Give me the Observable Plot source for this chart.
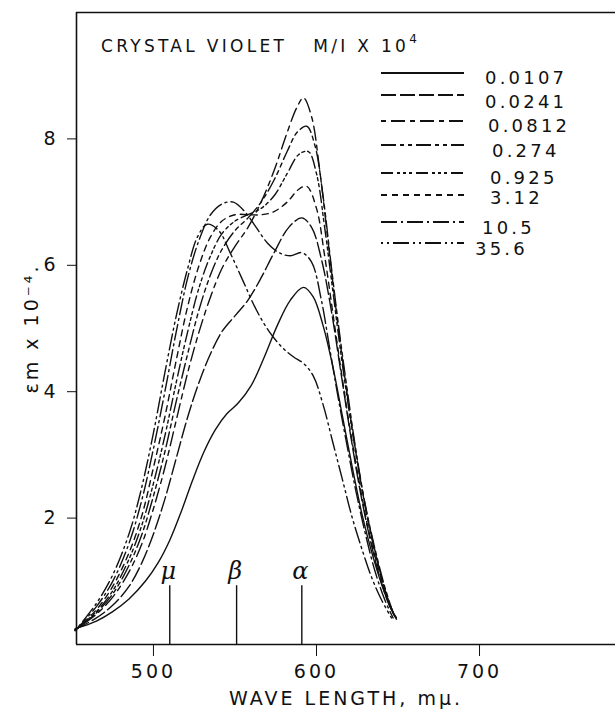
<!DOCTYPE html>
<html>
<head>
<meta charset="utf-8">
<script src="https://cdn.jsdelivr.net/npm/d3@7"></script>
<script src="https://cdn.jsdelivr.net/npm/@observablehq/plot@0.6"></script>
<style>
  html, body { margin: 0; padding: 0; background: #fff; }
  #wrap { position: relative; width: 615px; height: 710px; font-family: "DejaVu Sans", sans-serif; }
  #wrap svg text { letter-spacing: 3px; }
  #legend { position: absolute; left: 0; top: 0; width: 615px; height: 300px; pointer-events: none; }
  .ttl { position: absolute; left: 101px; top: 34px; font-size: 17px; letter-spacing: 3.3px; white-space: nowrap; color: #111; }
  .ttl sup { font-size: 12px; position: relative; top: -2px; }
  .row { position: absolute; left: 380px; height: 20px; white-space: nowrap; }
  .row svg { position: absolute; left: 0; top: 0; }
  .row span { position: absolute; font-size: 18px; line-height: 18px; letter-spacing: 3.2px; color: #111; }
</style>
</head>
<body>
<div id="wrap">
  <div id="chart"></div>
  <div id="legend"></div>
</div>
<script>
// concentrations (M/l x 10^4) and dash patterns
const concentrations = ["0.0107", "0.0241", "0.0812", "0.274", "0.925", "3.12", "10.5", "35.6"];
const dashes = ["none", "15,4", "5,5,14,5", "15,4,4,4,4,4", "12,4,3,3,3,3,3,4", "6,5", "16,4,2,4", "2,4,2,4,16,4"];

// wavelength (mμ) / εm x 10^-4 readings for each curve
const c0107 = [[452,0.25],[465,0.37],[475,0.52],[485,0.72],[495,1.0],[503,1.3],[510,1.65],[517,2.1],[524,2.6],[531,3.05],[538,3.4],[545,3.65],[552,3.82],[560,4.1],[568,4.55],[576,5.05],[584,5.45],[592,5.65],[598,5.5],[604,5.05],[610,4.4],[616,3.6],[622,2.8],[628,2.05],[634,1.45],[640,0.95],[646,0.55],[649,0.42]];
const c0241 = [[452,0.24],[465,0.42],[475,0.62],[485,0.92],[493,1.3],[500,1.75],[507,2.3],[514,2.95],[521,3.6],[528,4.15],[535,4.6],[542,4.95],[550,5.2],[558,5.45],[566,5.8],[574,6.2],[583,6.6],[591,6.75],[597,6.6],[603,6.1],[609,5.3],[615,4.3],[621,3.3],[627,2.4],[633,1.65],[639,1.05],[645,0.6],[649,0.42]];
const c0812 = [[452,0.24],[465,0.48],[475,0.75],[485,1.15],[493,1.6],[500,2.15],[507,2.8],[514,3.55],[521,4.3],[528,4.95],[535,5.5],[542,5.95],[550,6.3],[558,6.6],[566,7.0],[574,7.5],[582,8.1],[588,8.5],[592,8.65],[597,8.35],[602,7.5],[607,6.4],[612,5.3],[617,4.3],[622,3.4],[628,2.45],[634,1.7],[640,1.05],[646,0.55],[649,0.4]];
const c0274 = [[452,0.23],[465,0.5],[475,0.8],[485,1.25],[493,1.75],[500,2.35],[507,3.05],[514,3.85],[521,4.6],[528,5.3],[535,5.85],[542,6.25],[550,6.55],[558,6.75],[566,7.0],[574,7.35],[582,7.8],[588,8.1],[594,8.2],[599,7.9],[604,7.1],[609,6.0],[614,4.95],[619,4.0],[624,3.1],[630,2.2],[636,1.5],[642,0.9],[647,0.5]];
const c0925 = [[452,0.23],[465,0.52],[475,0.85],[485,1.35],[493,1.9],[500,2.55],[507,3.3],[514,4.15],[521,4.95],[528,5.65],[535,6.15],[542,6.5],[550,6.7],[558,6.8],[566,6.9],[574,7.1],[582,7.45],[589,7.75],[595,7.8],[600,7.45],[605,6.6],[610,5.6],[615,4.6],[620,3.7],[626,2.75],[632,1.9],[638,1.25],[644,0.7],[648,0.45]];
const c312 = [[452,0.22],[465,0.55],[475,0.92],[485,1.45],[493,2.05],[500,2.8],[507,3.6],[514,4.5],[521,5.35],[528,6.0],[535,6.45],[542,6.7],[550,6.8],[558,6.8],[566,6.8],[574,6.85],[582,7.0],[589,7.2],[594,7.25],[600,6.9],[605,6.15],[610,5.25],[615,4.35],[620,3.5],[626,2.6],[632,1.8],[638,1.2],[644,0.7],[648,0.45]];
const c105 = [[452,0.22],[465,0.6],[475,1.0],[485,1.6],[493,2.3],[500,3.1],[507,4.0],[514,4.95],[521,5.8],[528,6.4],[535,6.8],[542,6.97],[549,7.0],[556,6.85],[563,6.6],[570,6.35],[577,6.2],[584,6.15],[591,6.2],[597,6.05],[603,5.45],[608,4.7],[613,3.95],[618,3.25],[624,2.45],[630,1.75],[636,1.15],[642,0.7],[647,0.42]];
const c356 = [[452,0.22],[465,0.65],[475,1.1],[485,1.75],[492,2.4],[500,3.35],[507,4.3],[514,5.2],[521,5.95],[527,6.45],[533,6.65],[540,6.55],[547,6.2],[555,5.75],[563,5.3],[571,4.95],[579,4.7],[586,4.55],[592,4.45],[598,4.25],[604,3.8],[610,3.2],[616,2.6],[622,2.0],[628,1.5],[634,1.05],[640,0.7],[646,0.42]];
const curves = [c0107, c0241, c0812, c0274, c0925, c312, c105, c356];

// band markers
const bandNames = ["μ", "β", "α"];
const bandWavelengths = [510, 551, 591];
const bandHeight = 0.93;

// axes
const xTicks = [500, 600, 700];
const yTicks = [2, 4, 6, 8];
const xDomain = [452.8, 783.4];
const yDomain = [0, 10];

const bands = bandNames.map((n, i) => ({name: n, x: bandWavelengths[i]}));

const marks = [
  Plot.ruleY([yDomain[0]], {stroke: "#111", strokeWidth: 1.7}),
  Plot.ruleY([yDomain[1]], {stroke: "#111", strokeWidth: 1.3}),
  Plot.ruleX([xDomain[0]], {stroke: "#111", strokeWidth: 1.6}),
  Plot.axisX({ticks: xTicks, tickSize: 12, tickPadding: 8, fontSize: 19, label: "WAVE LENGTH, mμ.", labelAnchor: "center", labelOffset: 60, labelArrow: "none", stroke: "#111"}),
  Plot.axisY({ticks: yTicks, tickSize: 9, tickPadding: 9, fontSize: 19, label: "εm x 10⁻⁴.", labelAnchor: "center", labelOffset: 52, labelArrow: "none", stroke: "#111"}),
  Plot.ruleX(bands, {x: "x", y1: 0, y2: bandHeight, stroke: "#111", strokeWidth: 1.4}),
  Plot.text(bands, {x: "x", y: bandHeight, text: "name", dy: -14, fontSize: 24, fontStyle: "italic", fontFamily: "DejaVu Serif, serif", fill: "#111"})
];
concentrations.forEach((c, i) => {
  marks.push(Plot.line(curves[i].map(([x, y]) => ({x, y})), {x: "x", y: "y", curve: "catmull-rom", stroke: "#111", strokeWidth: 1.4, strokeDasharray: dashes[i] === "none" ? null : dashes[i]}));
});

const chart = Plot.plot({
  width: 615, height: 710,
  marginLeft: 76, marginRight: 0, marginTop: 12, marginBottom: 66,
  style: {fontFamily: "DejaVu Sans, sans-serif", fontSize: "19px", color: "#111", background: "#fff"},
  x: {domain: xDomain},
  y: {domain: yDomain},
  marks
});
document.getElementById("chart").appendChild(chart);

// legend (over the plot, upper right)
const legend = document.getElementById("legend");
const ttl = document.createElement("div");
ttl.className = "ttl";
ttl.innerHTML = "CRYSTAL VIOLET&nbsp;&nbsp; M/I X 10<sup>4</sup>";
legend.appendChild(ttl);
const rowTops = [73, 95, 121, 145, 173, 195, 222, 243];
const labelCenters = [78, 102, 126, 151, 178, 198, 228, 249];
const labelLefts = [105, 105, 108, 112, 110, 110, 102, 95];
concentrations.forEach((c, i) => {
  const r = document.createElement("div");
  r.className = "row";
  r.style.top = (rowTops[i] - 10) + "px";
  const off = labelCenters[i] - rowTops[i] + 1;
  r.innerHTML = `<svg width="86" height="20"><line x1="1" y1="10" x2="84" y2="10" stroke="#111" stroke-width="1.8" ${dashes[i] === "none" ? "" : `stroke-dasharray="${dashes[i]}"`}/></svg><span style="left:${labelLefts[i]}px; top:${off}px">${c}</span>`;
  legend.appendChild(r);
});
</script>
</body>
</html>
